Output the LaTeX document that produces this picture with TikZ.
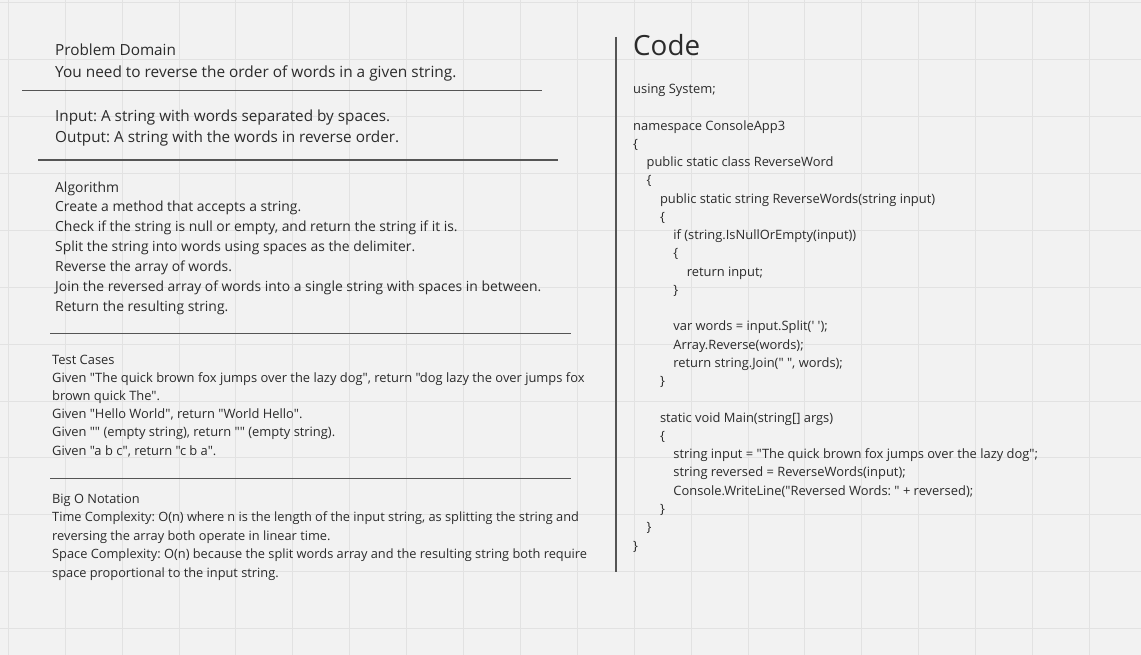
\documentclass[tikz,border=0pt]{standalone}
\usepackage{fontspec}
\setmainfont{Open Sans}[Ligatures=TeXOff]
\frenchspacing
\definecolor{board}{HTML}{F2F2F2}
\definecolor{gridgray}{HTML}{E2E2E2}
\definecolor{ink}{HTML}{2B2B2B}
\definecolor{rulegray}{HTML}{555555}
\newcommand\codetab[1]{\hspace*{\dimexpr #1\dimexpr 13.4pt\relax\relax}}

\begin{document}
\begin{tikzpicture}[
            x=1pt, y=-1pt,
            txt/.style={anchor=base west, inner sep=0pt, align=left, text=ink},
            gridline/.style={gridgray, line width=1pt},
            sepline/.style={rulegray, line width=1.6pt}]
            % board and grid
            \fill[board] (0,0) rectangle (1141,655);
            \useasboundingbox (0,0) rectangle (1141,655);
            \foreach \i in {0,...,19}
                \draw[gridline] ({8.3+56.9*\i},0) -- ++(0,655);
            \foreach \j in {0,...,11}
                \draw[gridline] (0,{2.7+56.9*\j}) -- ++(1141,0);

            % left column (nodes sit on the baseline of their last line)
            \node [txt, font=\fontsize{15.3}{20}\selectfont] (domain) at (55,56) {Problem Domain};
            \node [txt, font=\fontsize{15.4}{21}\selectfont] (task) at (55,78)
                {You need to reverse the order of words in a given string.};
            \draw[sepline] (22,90.7) -- (542,90.7);

            \node [txt, font=\fontsize{15.3}{21.2}\selectfont] (io) at (55,142.8)
                {Input: A string with words separated by spaces.\\
                 Output: A string with the words in reverse order.};
            \draw[sepline] (38,160) -- (558,160);

            \node [txt, font=\fontsize{13.9}{19.83}\selectfont] (algo) at (55,311)
                {Algorithm\\
                 Create a method that accepts a string.\\
                 Check if the string is null or empty, and return the string if it is.\\
                 Split the string into words using spaces as the delimiter.\\
                 Reverse the array of words.\\
                 Join the reversed array of words into a single string with spaces in between.\\
                 Return the resulting string.};
            \draw[sepline] (50,333.5) -- (571,333.5);

            \node [txt, font=\fontsize{12.9}{18.2}\selectfont] (tests) at (52,455)
                {Test Cases\\
                 Given "The quick brown fox jumps over the lazy dog", return "dog lazy the over jumps fox\\
                 brown quick The".\\
                 Given "Hello World", return "World Hello".\\
                 Given "" (empty string), return "" (empty string).\\
                 Given "a b c", return "c b a".};
            \draw[sepline] (50,478.5) -- (571,478.5);

            \node [txt, font=\fontsize{12.8}{18.5}\selectfont] (bigo) at (52,577)
                {Big O Notation\\
                 Time Complexity: O(n) where n is the length of the input string, as splitting the string and\\
                 reversing the array both operate in linear time.\\
                 Space Complexity: O(n) because the split words array and the resulting string both require\\
                 space proportional to the input string.};

            % right column
            \draw[sepline] (616,37) -- (616,572);
            \node [txt, font=\fontsize{27.8}{30}\selectfont] (codetitle) at (633,56) {Code};
            \node [txt, font=\fontsize{12.9}{18.26}\selectfont] (code) at (633,550)
                {using System;\\
                 ~\\
                 namespace ConsoleApp3\\
                 \{\\
                 \codetab{1}public static class ReverseWord\\
                 \codetab{1}\{\\
                 \codetab{2}public static string ReverseWords(string input)\\
                 \codetab{2}\{\\
                 \codetab{3}if (string.IsNullOrEmpty(input))\\
                 \codetab{3}\{\\
                 \codetab{4}return input;\\
                 \codetab{3}\}\\
                 ~\\
                 \codetab{3}var words = input.Split(' ');\\
                 \codetab{3}Array.Reverse(words);\\
                 \codetab{3}return string.Join(" ", words);\\
                 \codetab{2}\}\\
                 ~\\
                 \codetab{2}static void Main(string[] args)\\
                 \codetab{2}\{\\
                 \codetab{3}string input = "The quick brown fox jumps over the lazy dog";\\
                 \codetab{3}string reversed = ReverseWords(input);\\
                 \codetab{3}Console.WriteLine("Reversed Words: " + reversed);\\
                 \codetab{2}\}\\
                 \codetab{1}\}\\
                 \}};
        \end{tikzpicture}
\end{document}
